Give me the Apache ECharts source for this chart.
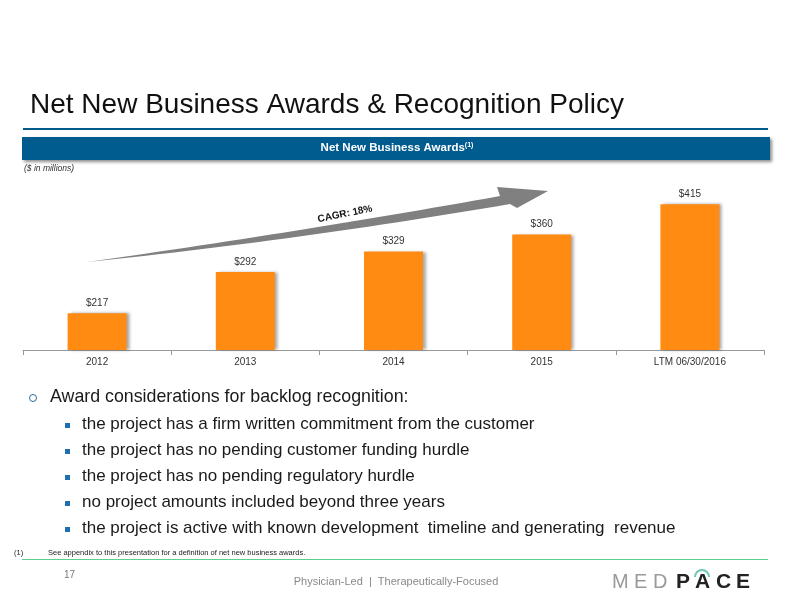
<!DOCTYPE html>
<html>
<head>
<meta charset="utf-8">
<script src="https://cdn.jsdelivr.net/npm/echarts@6/dist/echarts.min.js"></script>
<style>
html,body{margin:0;padding:0;background:#fff;}
#c{width:792px;height:612px;}
</style>
</head>
<body>
<div id="c"></div>
<script>
var categories = ['2012', '2013', '2014', '2015', 'LTM 06/30/2016'];
var awards = [217, 292, 329, 360, 415];
var bulletLines = [
  'the project has a firm written commitment from the customer',
  'the project has no pending customer funding hurdle',
  'the project has no pending regulatory hurdle',
  'no project amounts included beyond three years',
  'the project is active with known development  timeline and generating  revenue'
];

var chart = echarts.init(document.getElementById('c'), null, {renderer: 'canvas'});
var FONT = '"Liberation Sans", Arial, sans-serif';
var graphics = [];

function txt(x, y, text, font, fill, align, vAlign, extra) {
  var o = {type: 'text', x: x, y: y, style: {text: text, font: font, fill: fill, align: align || 'left', verticalAlign: vAlign || 'top'}};
  if (extra) { for (var k in extra) o[k] = extra[k]; }
  return o;
}

// Title
graphics.push(txt(30, 91, 'Net New Business Awards & Recognition Policy', '28px ' + FONT, '#111'));
// Blue rule
graphics.push({type: 'rect', shape: {x: 23, y: 128, width: 745, height: 2}, style: {fill: '#005a8c'}});
// Header bar
graphics.push({type: 'rect', shape: {x: 22, y: 137, width: 748, height: 23}, style: {fill: '#005b8f', shadowColor: 'rgba(0,0,0,0.45)', shadowBlur: 3, shadowOffsetX: 2, shadowOffsetY: 2}});
graphics.push({type: 'text', x: 397, y: 148, style: {text: '{a|Net New Business Awards}{s|(1)}', align: 'center', verticalAlign: 'middle', rich: {a: {font: 'bold 11.5px ' + FONT, fill: '#fff'}, s: {font: 'bold 7px ' + FONT, fill: '#fff', verticalAlign: 'top', padding: [0, 0, 6, 0]}}}});
graphics.push(txt(24, 164, '($ in millions)', 'italic 8.5px ' + FONT, '#333'));

// CAGR arrow (decorative), sampled quadratic curves
function quad(p0, p1, p2, n) {
  var pts = [];
  for (var i = 0; i <= n; i++) {
    var t = i / n, a = (1 - t) * (1 - t), b = 2 * (1 - t) * t, c = t * t;
    pts.push([a * p0[0] + b * p1[0] + c * p2[0], a * p0[1] + b * p1[1] + c * p2[1]]);
  }
  return pts;
}
var upper = quad([87, 262], [300, 232], [500, 196], 30);
var lower = quad([510, 204], [300, 240], [87, 262], 30);
var arrowPts = upper.concat([[497, 187], [548, 191], [517, 208]]).concat(lower);
graphics.push({type: 'polygon', shape: {points: arrowPts}, style: {fill: '#808080'}});
graphics.push(txt(345, 214, 'CAGR: 18%', 'bold 10px ' + FONT, '#111', 'center', 'middle', {rotation: 0.2}));

// Bullets
graphics.push({type: 'circle', shape: {cx: 33, cy: 398, r: 3.5}, style: {fill: 'none', stroke: '#2a6f9e', lineWidth: 1}});
graphics.push(txt(50, 388, 'Award considerations for backlog recognition:', '17.8px ' + FONT, '#1a1a1a'));
bulletLines.forEach(function (t, i) {
  var y = 426 + i * 26;
  graphics.push({type: 'rect', shape: {x: 65, y: y - 3, width: 5, height: 5}, style: {fill: '#1f6fb0'}});
  graphics.push(txt(82, y - 10, t, '17px ' + FONT, '#1a1a1a'));
});

// Footnote
graphics.push(txt(14, 549, '(1)', '7.5px ' + FONT, '#222'));
graphics.push(txt(48, 549, 'See appendix to this presentation for a definition of net new business awards.', '7.5px ' + FONT, '#222'));
graphics.push({type: 'rect', shape: {x: 22, y: 559, width: 746, height: 1}, style: {fill: '#5fcf8f'}});
graphics.push(txt(64, 570, '17', '10px ' + FONT, '#777'));
graphics.push(txt(396, 582, 'Physician-Led  |  Therapeutically-Focused', '11px ' + FONT, '#888', 'center', 'middle'));
// Logo
var logoLetters = [['M', 612, false], ['E', 634, false], ['D', 653, false], ['P', 676, true], ['A', 695, true], ['C', 716, true], ['E', 736, true]];
logoLetters.forEach(function (l) {
  graphics.push(txt(l[1], 572, l[0], (l[2] ? 'bold 21px ' : '20px ') + FONT, l[2] ? '#222' : '#9a9a9a'));
});
graphics.push({type: 'arc', shape: {cx: 702, cy: 577, r: 7, startAngle: Math.PI * 1.0, endAngle: Math.PI * 2.0}, style: {stroke: '#6ec9b5', lineWidth: 2, fill: 'none'}});

var option = {
  animation: false,
  backgroundColor: '#fff',
  grid: {left: 23, right: 28, top: 185, bottom: 262, containLabel: false},
  xAxis: {
    type: 'category',
    data: categories,
    axisLine: {lineStyle: {color: '#999', width: 1}},
    axisTick: {show: true, length: 5, lineStyle: {color: '#999'}},
    axisLabel: {color: '#333', fontSize: 10, fontFamily: FONT, margin: 7}
  },
  yAxis: {
    type: 'value', min: 150, max: 450, show: false, splitLine: {show: false}
  },
  series: [{
    type: 'bar',
    data: awards,
    barWidth: 59,
    itemStyle: {color: '#ff8b12', shadowColor: 'rgba(0,0,0,0.35)', shadowBlur: 3, shadowOffsetX: 3, shadowOffsetY: 0},
    label: {show: true, position: 'top', distance: 5, formatter: function (p) { return '$' + p.value; }, color: '#333', fontSize: 10, fontFamily: FONT}
  }],
  graphic: graphics
};
chart.setOption(option);
</script>
</body>
</html>
